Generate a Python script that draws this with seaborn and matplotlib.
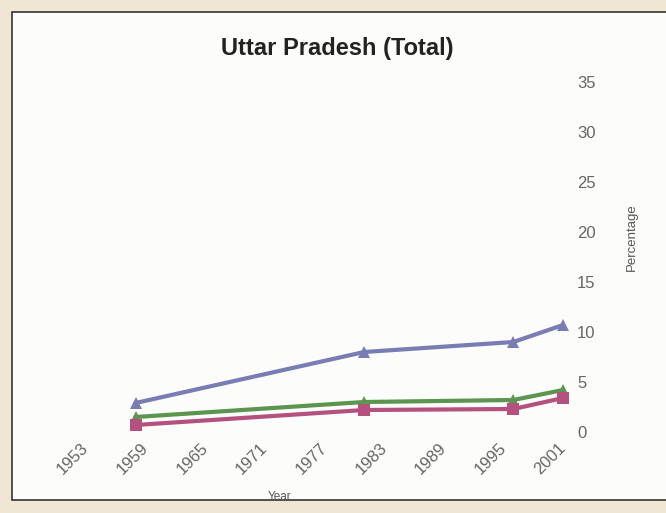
import numpy as np
import pandas as pd
import seaborn as sns
import matplotlib.pyplot as plt
import matplotlib.transforms as mtransforms
from matplotlib.patches import Rectangle

# values
years = [1958, 1981, 1996, 2001]
purple_vals = [2.9, 8.0, 9.0, 10.7]
green_vals = [1.5, 3.0, 3.2, 4.2]
pink_vals = [0.7, 2.2, 2.3, 3.4]
series_names = ["Series 1", "Series 2", "Series 3"]
xticks = [1953, 1959, 1965, 1971, 1977, 1983, 1989, 1995, 2001]
yticks = [0, 5, 10, 15, 20, 25, 30, 35]

df = pd.DataFrame({
    "Year": years * 3,
    "Percentage": purple_vals + green_vals + pink_vals,
    "series": [series_names[0]] * 4 + [series_names[1]] * 4 + [series_names[2]] * 4,
})

sns.set_style("white")
plt.rcParams['font.family'] = ['Liberation Sans', 'DejaVu Sans']

W, H = 666, 513
fig = plt.figure(figsize=(W / 100, H / 100), dpi=100)
fig.patch.set_facecolor("#efe7d4")

# the white card with its dark edge
card = Rectangle((12 / W, 1 - 500 / H), 700 / W, 488 / H, transform=fig.transFigure,
                 facecolor="#fcfcfa", edgecolor="#333333", linewidth=1.2, zorder=-10)
fig.patches.append(card)

ax = fig.add_axes([56 / W, 1 - 432 / H, (570 - 56) / W, (432 - 82) / H])
ax.set_facecolor("none")
ax.set_zorder(5)

palette = {series_names[0]: "#7a7db4", series_names[1]: "#5b9550", series_names[2]: "#b5517f"}
markers = {series_names[0]: "^", series_names[1]: "^", series_names[2]: "s"}
sns.lineplot(data=df, x="Year", y="Percentage", hue="series", style="series",
             palette=palette, markers=markers, dashes=False, linewidth=3,
             markersize=9, markeredgewidth=0, legend=False, ax=ax)

ax.set_xlim(1950, 2001.7)
ax.set_ylim(0, 35)
ax.set_xticks(xticks)
ax.set_yticks(yticks)
ax.yaxis.tick_right()
ax.tick_params(length=0, colors="#666666", labelsize=12)
ax.tick_params(axis="y", pad=5)
ax.tick_params(axis="x", pad=6)
shift = mtransforms.ScaledTranslation(-5 / 100, 0, fig.dpi_scale_trans)
for lab in ax.get_xticklabels():
    lab.set_rotation(45)
    lab.set_ha("right")
    lab.set_va("top")
    lab.set_rotation_mode("anchor")
    lab.set_transform(lab.get_transform() + shift)
ax.set_xlabel("")
ax.set_ylabel("")
sns.despine(ax=ax, left=True, bottom=True, right=True, top=True)

fig.text(337 / W, 1 - 48 / H, "Uttar Pradesh (Total)", ha="center", va="center",
         fontsize=17, fontweight="bold", color="#222222", zorder=6)
fig.text(632 / W, 1 - 237 / H, "Percentage", rotation=90, ha="center", va="center",
         fontsize=9.5, color="#555555", zorder=6)
fig.text(280 / W, 1 - 497 / H, "Year", ha="center", va="center",
         fontsize=8.5, color="#555555", zorder=6)

fig.savefig("out.png", dpi=100, facecolor=fig.get_facecolor())
